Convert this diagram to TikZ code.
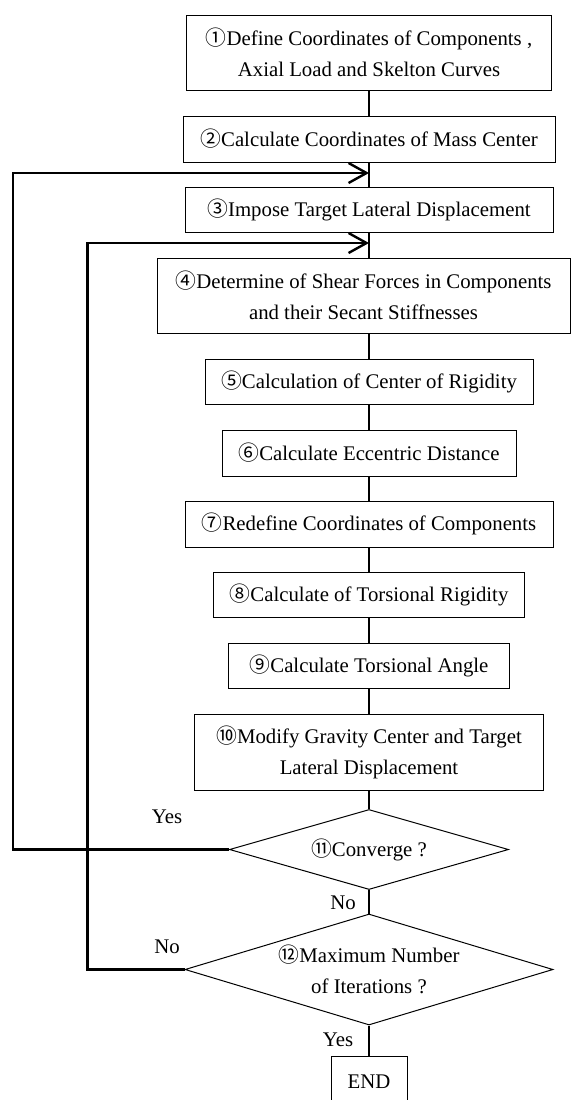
\documentclass[tikz,border=0pt]{standalone}
\usepackage{fontspec}
\setmainfont{Liberation Serif}
\newfontfamily\cjk{Noto Sans CJK JP}
\usetikzlibrary{shapes.geometric,arrows.meta}
\newcommand{\cnum}[1]{{\cjk #1}}

\begin{document}
\begin{tikzpicture}
    [x=1pt, y=-1pt, font=\fontsize{20.8}{31}\selectfont,
    box/.style={rectangle, draw, line width=1pt, inner sep=0pt, align=center},
    decide/.style={diamond, draw, line width=1pt, inner sep=0pt, align=center},
    conn/.style={line width=1.5pt},
    back/.style={line width=2.8pt, -{Straight Barb[length=18pt, width=20pt, line width=2.4pt]}}]
    \useasboundingbox (0,0) rectangle (573,1100);
    %		steps
    \node[box, minimum width=365pt, minimum height=75pt] (b1) at (369,52.5){\cnum{①}Define Coordinates of Components ,\\ Axial Load and Skelton Curves};
    \node[box, minimum width=372pt, minimum height=46pt] (b2) at (369,139){\cnum{②}Calculate Coordinates of Mass Center};
    \node[box, minimum width=368pt, minimum height=45pt] (b3) at (369,209.5){\cnum{③}Impose Target Lateral Displacement};
    \node[box, minimum width=413pt, minimum height=75pt] (b4) at (363.5,295.5){\cnum{④}Determine of Shear Forces in Components\\ and their Secant Stiffnesses};
    \node[box, minimum width=328pt, minimum height=45pt] (b5) at (369,381.5){\cnum{⑤}Calculation of Center of Rigidity};
    \node[box, minimum width=294pt, minimum height=46pt] (b6) at (369,453){\cnum{⑥}Calculate Eccentric Distance};
    \node[box, minimum width=368pt, minimum height=46pt] (b7) at (369,524){\cnum{⑦}Redefine Coordinates of Components};
    \node[box, minimum width=311pt, minimum height=45pt] (b8) at (369,594.5){\cnum{⑧}Calculate of Torsional Rigidity};
    \node[box, minimum width=281pt, minimum height=45pt] (b9) at (369,665.5){\cnum{⑨}Calculate Torsional Angle};
    \node[box, minimum width=349pt, minimum height=76pt] (b10) at (369,752){\cnum{⑩}Modify Gravity Center and Target\\ Lateral Displacement};
    \node[decide, aspect=3.5, minimum width=279pt, minimum height=80pt] (d11) at (369,849.5){\cnum{⑪}Converge ?};
    \node[decide, aspect=3.3, minimum width=368pt, minimum height=111pt] (d12) at (369,969.5){\cnum{⑫}Maximum Number\\ of Iterations ?};
    \node[box, minimum width=76pt, minimum height=52pt] (end) at (369,1082){END};
    %		labels
    \node (yes1) at (167,817){Yes};
    \node (no1) at (343,903){No};
    \node (no2) at (167,947){No};
    \node (yes2) at (338,1040){Yes};
    \coordinate (j1) at (369,173);
    \coordinate (j2) at (369,243);
    %		connectors
    \draw[conn] (b1) -- (b2);
    \draw[conn] (b2) -- (b3);
    \draw[conn] (b3.south) -- (b3.south |- b4.north);
    \draw[conn] (b5.north |- b4.south) -- (b5.north);
    \draw[conn] (b5) -- (b6);
    \draw[conn] (b6) -- (b7);
    \draw[conn] (b7) -- (b8);
    \draw[conn] (b8) -- (b9);
    \draw[conn] (b9) -- (b10);
    \draw[conn] (b10) -- (d11);
    \draw[conn] (d11) -- (d12);
    \draw[conn] (d12) -- (end);
    \draw[back] (d11.west) -- ++(-216,0) |- (j1);
    \draw[back] (d12.west) -- ++(-97,0) |- (j2);
\end{tikzpicture}
\end{document}
